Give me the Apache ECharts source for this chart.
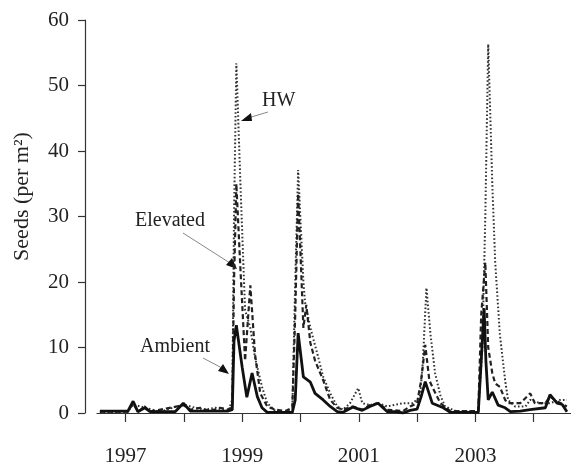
<!DOCTYPE html>
<html>
<head>
<meta charset="utf-8">
<script src="https://cdn.jsdelivr.net/npm/echarts@6/dist/echarts.min.js"></script>
<style>
  html, body { margin: 0; padding: 0; background: #fff; }
  #chart { width: 571px; height: 466px; }
</style>
</head>
<body>
<div id="chart"></div>
<script>
// tick years and labelled years
var tickYears = [1997, 1998, 1999, 2000, 2001, 2002, 2003, 2004];
var labelYears = [1997, 1999, 2001, 2003];

// [decimal year, seeds per m2]
var ambient = [
  [1996.56, 0.3], [1997.04, 0.3], [1997.13, 1.8], [1997.21, 0.2], [1997.33, 0.8],
  [1997.42, 0.2], [1997.85, 0.2], [1997.99, 1.5], [1998.11, 0.3], [1998.76, 0.3],
  [1998.83, 0.5], [1998.86, 11], [1998.90, 13.4], [1999.00, 7], [1999.08, 2.4],
  [1999.17, 6.1], [1999.26, 2.5], [1999.34, 0.8], [1999.43, 0.1], [1999.86, 0.1],
  [1999.91, 2], [1999.96, 12.2], [2000.05, 5.5], [2000.17, 4.7], [2000.25, 3],
  [2000.39, 2], [2000.51, 1], [2000.63, 0.2], [2000.73, 0.1], [2000.90, 0.9],
  [2001.06, 0.4], [2001.19, 1], [2001.33, 1.5], [2001.49, 0.2], [2001.62, 0.2],
  [2001.76, 0], [2001.88, 0.4], [2002.00, 0.6], [2002.07, 2.5], [2002.14, 4.8],
  [2002.26, 1.5], [2002.45, 0.8], [2002.57, 0.1], [2003.05, 0.1], [2003.10, 8],
  [2003.15, 16], [2003.18, 8], [2003.22, 2], [2003.29, 3.2], [2003.39, 1.2],
  [2003.51, 0.8], [2003.60, 0.2], [2003.77, 0.3], [2003.94, 0.5], [2004.20, 0.8],
  [2004.28, 2.8], [2004.40, 1.5], [2004.49, 1.3], [2004.57, 0.2]
];

var elevated = [
  [1996.56, 0.2], [1997.04, 0.2], [1997.13, 1.5], [1997.21, 0.2], [1997.33, 1.0],
  [1997.42, 0.2], [1997.99, 1.2], [1998.11, 0.5], [1998.28, 0.8], [1998.45, 0.3],
  [1998.62, 0.8], [1998.76, 0.5], [1998.83, 1], [1998.86, 20], [1998.90, 35],
  [1998.97, 22], [1999.05, 8], [1999.14, 19.5], [1999.22, 9], [1999.31, 3],
  [1999.43, 1], [1999.57, 0.5], [1999.74, 0.3], [1999.86, 0.8], [1999.91, 15],
  [1999.96, 33.5], [2000.05, 13], [2000.10, 16.5], [2000.17, 10.7], [2000.25, 8],
  [2000.39, 5], [2000.51, 2], [2000.63, 0.8], [2000.73, 0.5], [2000.90, 1],
  [2001.06, 0.5], [2001.19, 1.2], [2001.33, 1.5], [2001.49, 0.5], [2001.76, 0.3],
  [2001.88, 1], [2002.00, 1.5], [2002.07, 5], [2002.14, 10.4], [2002.21, 5],
  [2002.26, 4], [2002.40, 1.5], [2002.57, 0.3], [2003.05, 0.3], [2003.10, 15],
  [2003.17, 23], [2003.22, 10], [2003.29, 6.1], [2003.34, 4.5], [2003.42, 4],
  [2003.51, 2], [2003.56, 1.5], [2003.77, 1.5], [2003.94, 3], [2004.02, 1.5],
  [2004.20, 1.5], [2004.28, 2.5], [2004.40, 1.8], [2004.57, 1]
];

var hw = [
  [1996.56, 0.1], [1997.04, 0.2], [1997.13, 1.3], [1997.33, 0.8], [1997.59, 0.2],
  [1997.99, 1.3], [1998.19, 0.8], [1998.36, 0.5], [1998.54, 0.8], [1998.76, 0.3],
  [1998.83, 2], [1998.86, 30], [1998.90, 53.4], [1998.97, 35], [1999.05, 15.7],
  [1999.14, 13], [1999.22, 8.5], [1999.34, 4], [1999.43, 1.5], [1999.57, 0.3],
  [1999.74, 0.1], [1999.86, 0.6], [1999.91, 20], [1999.96, 37.1], [2000.05, 20],
  [2000.08, 16.8], [2000.17, 13], [2000.29, 9], [2000.39, 5.5], [2000.51, 3],
  [2000.63, 1], [2000.73, 0.5], [2000.85, 1.5], [2000.99, 3.8], [2001.06, 1.5],
  [2001.19, 1.2], [2001.33, 1.5], [2001.49, 1], [2001.76, 1.5], [2001.93, 1.5],
  [2002.05, 2.5], [2002.10, 8], [2002.16, 19.1], [2002.23, 12], [2002.31, 6],
  [2002.40, 2.7], [2002.48, 1], [2002.66, 0.3], [2003.05, 0.3], [2003.12, 10],
  [2003.17, 30], [2003.22, 56.3], [2003.29, 35], [2003.34, 23], [2003.42, 12],
  [2003.51, 5], [2003.56, 2], [2003.68, 1], [2003.86, 1], [2003.94, 2],
  [2004.11, 1.5], [2004.28, 1.5], [2004.45, 2], [2004.57, 2]
];

var serif = '"Liberation Serif", "DejaVu Serif", serif';
var ink = '#222';

var chart = echarts.init(document.getElementById('chart'), null, { renderer: 'canvas' });

var option = {
  animation: false,
  backgroundColor: '#fff',
  grid: { left: 97, right: 0, top: 20, bottom: 53, outerBoundsMode: 'none' },
  xAxis: {
    type: 'value',
    min: 1996.51,
    max: 2004.64,
    offset: 18,
    splitLine: { show: false },
    axisLine: { show: true, lineStyle: { color: '#333', width: 1.2 } },
    axisTick: { show: true, length: 9, customValues: tickYears, lineStyle: { color: '#333', width: 1.2 } },
    axisLabel: {
      customValues: labelYears,
      margin: 15,
      fontFamily: serif,
      fontSize: 21,
      color: ink,
      formatter: function (v) { return String(v); }
    }
  },
  yAxis: {
    type: 'value',
    min: 0,
    max: 60,
    interval: 10,
    offset: 12,
    name: 'Seeds (per m²)',
    nameLocation: 'middle',
    nameGap: 52,
    nameTextStyle: { fontFamily: serif, fontSize: 22, color: ink, padding: [0, 0, 0, 40] },
    splitLine: { show: false },
    axisLine: { show: true, lineStyle: { color: '#333', width: 1.2 } },
    axisTick: { show: true, length: 7, lineStyle: { color: '#333', width: 1.2 } },
    axisLabel: { margin: 16, fontFamily: serif, fontSize: 21, color: ink }
  },
  series: [
    {
      name: 'HW', type: 'line', data: hw, showSymbol: false,
      lineStyle: { color: '#333', width: 2, type: [1.6, 2.2] }
    },
    {
      name: 'Elevated', type: 'line', data: elevated, showSymbol: false,
      lineStyle: { color: '#222', width: 2.2, type: [5, 3] }
    },
    {
      name: 'Ambient', type: 'line', data: ambient, showSymbol: false,
      lineStyle: { color: '#111', width: 2.8 }
    }
  ],
  graphic: [
    { type: 'text', left: 262, top: 91, style: { text: 'HW', font: '20px ' + serif, fill: ink } },
    { type: 'line', shape: { x1: 268, y1: 112, x2: 248, y2: 118 }, style: { stroke: '#888', lineWidth: 1 } },
    { type: 'polygon', shape: { points: [[241, 121], [251, 113], [252, 121]] }, style: { fill: '#111' } },

    { type: 'text', left: 135, top: 211, style: { text: 'Elevated', font: '20px ' + serif, fill: ink } },
    { type: 'line', shape: { x1: 183, y1: 233, x2: 230, y2: 263 }, style: { stroke: '#888', lineWidth: 1 } },
    { type: 'polygon', shape: { points: [[237, 269], [226, 265], [232, 258]] }, style: { fill: '#111' } },

    { type: 'text', left: 140, top: 337, style: { text: 'Ambient', font: '20px ' + serif, fill: ink } },
    { type: 'line', shape: { x1: 203, y1: 358, x2: 222, y2: 368 }, style: { stroke: '#888', lineWidth: 1 } },
    { type: 'polygon', shape: { points: [[229, 374], [218, 371], [223, 364]] }, style: { fill: '#111' } }
  ]
};

chart.setOption(option);
</script>
</body>
</html>
